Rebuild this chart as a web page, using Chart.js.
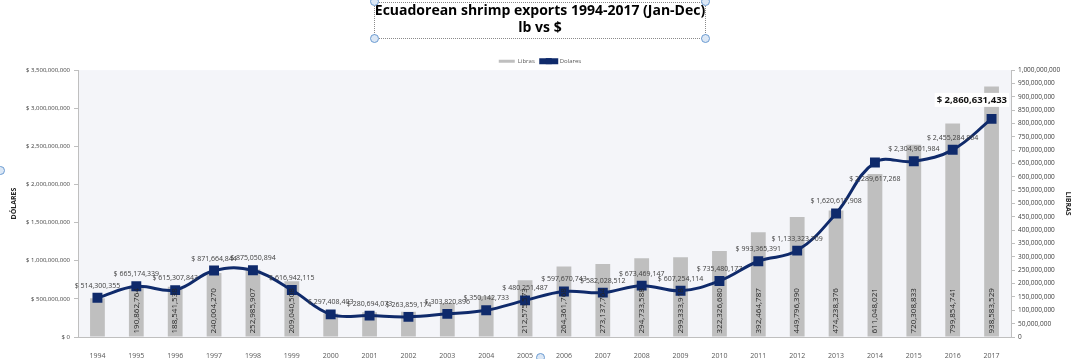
<!DOCTYPE html>
<html>
<head>
<meta charset="utf-8">
<script src="https://cdn.jsdelivr.net/npm/chart.js@4.4.1/dist/chart.umd.min.js"></script>
<style>
  html, body { margin: 0; padding: 0; background: #fff; }
  #wrap { position: relative; width: 1080px; height: 359px; overflow: hidden; }
  #frame { position: absolute; left: 374px; top: 2px; width: 330px; height: 35px; border: 1px dotted #8a8a8a; pointer-events: none; }
  .handle { position: absolute; width: 7px; height: 7px; border: 1px solid #6b9bd1; border-radius: 50%; background: #dbe7f5; }
</style>
</head>
<body>
<div id="wrap">
  <canvas id="myChart" width="1080" height="359"></canvas>
  <div id="frame"></div>
  <div class="handle" style="left:370px; top:34px"></div>
  <div class="handle" style="left:701px; top:34px"></div>
  <div class="handle" style="left:701px; top:-3px"></div>
  <div class="handle" style="left:370px; top:-3px"></div>
  <div class="handle" style="left:-4px; top:166px"></div>
  <div class="handle" style="left:536px; top:353px"></div>
</div>
<script>
const years = ["1994", "1995", "1996", "1997", "1998", "1999", "2000", "2001", "2002", "2003", "2004", "2005",
  "2006", "2007", "2008", "2009", "2010", "2011", "2012", "2013", "2014", "2015", "2016", "2017"];

// export value in US$
const dolares = [514300355, 665174339, 615307843, 871664844, 875050894, 616942115, 297408403, 280694073,
  263859174, 303820896, 350142733, 480251487, 597670743, 582028512, 673469147, 607254114, 735480177,
  993365391, 1133323709, 1620617908, 2289617268, 2304901984, 2455284864, 2860631433];

// export volume in pounds
const libras = [145000000, 190862764, 188541538, 240004270, 252985907, 209040508, 88000000, 93000000,
  95000000, 127000000, 153000000, 212575573, 264361768, 273137764, 294733588, 299333918, 322326680,
  392464787, 449796390, 474238376, 611048021, 720308833, 799854741, 938583529];

const navy = "#0f2a6b";
const grey = "#bfbfbf";
const fontFam = "'Open Sans', 'DejaVu Sans', sans-serif";
const legendShift = 4;

const plotBg = {
  id: "plotBg",
  afterLayout(chart) {
    // nudge the legend a little closer to the plot
    const l = chart.legend;
    if (!l) return;
    l.top += legendShift;
    l.bottom += legendShift;
  },
  beforeDraw(chart) {
    const { ctx, chartArea: a } = chart;
    ctx.save();
    ctx.fillStyle = "#f4f5f9";
    ctx.fillRect(a.left, a.top, a.right - a.left, a.bottom - a.top);
    ctx.restore();
  }
};

const valueLabels = {
  id: "valueLabels",
  afterDatasetsDraw(chart) {
    const ctx = chart.ctx;
    const bars = chart.getDatasetMeta(0).data;
    const pts = chart.getDatasetMeta(1).data;
    ctx.save();

    // pounds, rotated inside the bars
    ctx.font = "8px " + fontFam;
    ctx.fillStyle = "#262626";
    bars.forEach((bar, i) => {
      const txt = libras[i].toLocaleString("en-US");
      const w = ctx.measureText(txt).width;
      if (bar.base - bar.y < w - 3) return;
      ctx.save();
      ctx.translate(bar.x, bar.base - 3);
      ctx.rotate(-Math.PI / 2);
      ctx.textAlign = "left";
      ctx.textBaseline = "middle";
      ctx.fillText(txt, 0, 0);
      ctx.restore();
    });

    // dollars, above the points
    ctx.textAlign = "center";
    ctx.textBaseline = "middle";
    pts.forEach((pt, i) => {
      const txt = "$ " + dolares[i].toLocaleString("en-US");
      if (i === dolares.length - 1) {
        ctx.font = "bold 9.5px " + fontFam;
        const w = ctx.measureText(txt).width;
        const y = pt.y - 19;
        const x = Math.min(pt.x, chart.chartArea.right - w / 2 - 4);
        ctx.fillStyle = "#ffffff";
        ctx.fillRect(x - w / 2 - 2, y - 7, w + 4, 14);
        ctx.fillStyle = "#111";
        ctx.fillText(txt, x, y);
        return;
      }
      ctx.font = "7px " + fontFam;
      ctx.fillStyle = "#404040";
      const y = i === 20 ? pt.y + 17 : pt.y - 12;
      ctx.fillText(txt, pt.x, y);
    });
    ctx.restore();
  },
  afterDraw(chart) {
    // square marker on the "Dolares" legend swatch
    const box = chart.legend.legendHitBoxes[1];
    if (!box) return;
    const ctx = chart.ctx;
    const cx = box.left + 8, cy = box.top + box.height / 2;
    ctx.save();
    ctx.fillStyle = navy;
    ctx.fillRect(cx - 3, cy - 3, 6, 6);
    ctx.restore();
  }
};

const ctx = document.getElementById("myChart");

var myChart = new Chart(ctx, {
  type: "bar",
  data: {
    labels: years,
    datasets: [
      {
        type: "bar",
        label: "Libras",
        data: libras,
        yAxisID: "y1",
        backgroundColor: grey,
        barPercentage: 0.38,
        categoryPercentage: 1,
        order: 2,
      },
      {
        type: "line",
        label: "Dolares",
        data: dolares,
        yAxisID: "y",
        borderColor: navy,
        backgroundColor: navy,
        borderWidth: 3,
        tension: 0.4,
        pointStyle: "rect",
        pointRadius: 7,
        pointBorderWidth: 0,
        pointBackgroundColor: navy,
        pointBorderColor: navy,
        order: 1,
      },
    ],
  },
  options: {
    responsive: false,
    animation: false,
    layout: { padding: 0 },
    plugins: {
      title: {
        display: true,
        text: ["Ecuadorean shrimp exports 1994-2017 (Jan-Dec)", "lb vs $"],
        color: "#000",
        font: { family: fontFam, size: 14, weight: "bold", lineHeight: 1.22 },
        padding: { top: 2, bottom: 12 },
      },
      legend: {
        display: true,
        labels: {
          font: { family: fontFam, size: 6 },
          color: "#595959",
          boxWidth: 16,
          boxHeight: 3,
          padding: 6,
          sort: (a, b) => a.datasetIndex - b.datasetIndex,
        },
      },
      tooltip: { enabled: false },
    },
    scales: {
      x: {
        grid: { display: false },
        border: { color: "#bfbfbf" },
        ticks: { font: { family: fontFam, size: 7 }, color: "#595959", maxRotation: 0, padding: 7 },
        afterFit: (s) => { s.height = 22; },
      },
      y: {
        position: "left",
        min: 0,
        max: 3500000000,
        grid: { drawOnChartArea: false, tickLength: 4, color: "#bfbfbf" },
        border: { color: "#bfbfbf" },
        ticks: {
          stepSize: 500000000,
          font: { family: fontFam, size: 6 },
          color: "#404040",
          padding: 4,
          callback: (v) => "$ " + v.toLocaleString("en-US"),
        },
        title: { display: true, text: "DÓLARES", color: "#262626", font: { family: fontFam, size: 7, weight: "bold" }, padding: { top: 10, bottom: 0 } },
        afterFit: (s) => { s.width = 78; },
      },
      y1: {
        position: "right",
        min: 0,
        max: 1000000000,
        grid: { drawOnChartArea: false, tickLength: 4, color: "#bfbfbf" },
        border: { color: "#bfbfbf" },
        ticks: {
          stepSize: 50000000,
          font: { family: fontFam, size: 6.5 },
          color: "#404040",
          padding: 3,
          callback: (v) => v.toLocaleString("en-US"),
        },
        title: { display: true, text: "LIBRAS", color: "#262626", font: { family: fontFam, size: 7, weight: "bold" }, padding: { top: 8, bottom: 0 } },
        afterFit: (s) => { s.width = 69; },
      },
    },
  },
  plugins: [plotBg, valueLabels],
});
</script>
</body>
</html>
